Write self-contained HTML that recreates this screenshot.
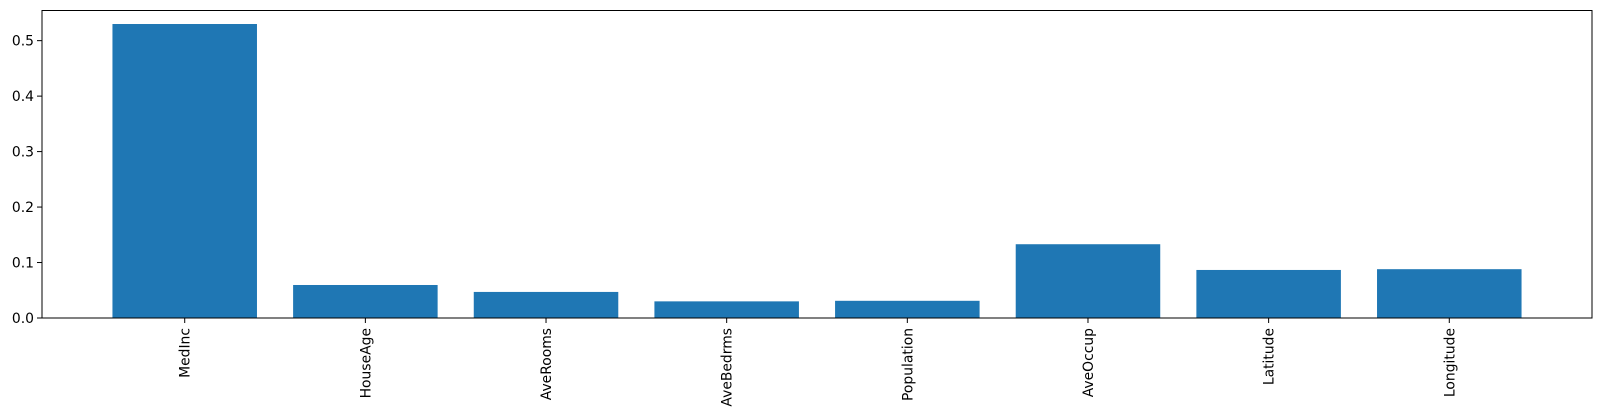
<!DOCTYPE html>
<html><head><meta charset="utf-8"><style>
html,body{margin:0;padding:0;background:#fff;}
svg{display:block;font-family:"DejaVu Sans","Liberation Sans",sans-serif;}
</style></head><body>
<svg id="chart" width="1601" height="416" viewBox="0 0 1601 416" xmlns="http://www.w3.org/2000/svg">
<g id="bars"></g>
<g id="yaxis"></g>
<g id="xaxis"></g>
<rect x="42" y="10.5" width="1550" height="307.5" fill="none" stroke="#000" stroke-width="1"/>
</svg>
<script>
const categories = ["MedInc","HouseAge","AveRooms","AveBedrms","Population","AveOccup","Latitude","Longitude"];
const values = [0.530, 0.0595, 0.047, 0.030, 0.031, 0.133, 0.0866, 0.088];
const yTicks = [0.0, 0.1, 0.2, 0.3, 0.4, 0.5];
const yTickLabels = ["0.0","0.1","0.2","0.3","0.4","0.5"];

const NS = "http://www.w3.org/2000/svg";
const L = 42, R = 1592, T = 10.5, B = 318;
const xMin = -0.79, xMax = categories.length - 1 + 0.79;
const pxPerUnit = 554.7;
function xScale(i){ return L + (i - xMin) / (xMax - xMin) * (R - L); }
function yScale(v){ return B - v * pxPerUnit; }
const step = xScale(1) - xScale(0);
function mk(tag, attrs){ const e = document.createElementNS(NS, tag); for (const k in attrs) e.setAttribute(k, attrs[k]); return e; }

const gb = document.getElementById('bars');
values.forEach((v, i) => {
  const w = step * 0.8;
  const r = mk('rect', {x: xScale(i) - w/2, y: yScale(v), width: w, height: B - yScale(v), fill: '#1f77b4'});
  
  
  gb.appendChild(r);
});

const gy = document.getElementById('yaxis');
yTicks.forEach((t, i) => {
  const y = yScale(t);
  const ln = mk('line', {x1: L - 5, x2: L, y1: y, y2: y, stroke: '#000', 'stroke-width': 1});
  
  
  gy.appendChild(ln);
  const tx = mk('text', {x: L - 8, y: y + 5, 'text-anchor': 'end', 'font-size': '13.9', fill: '#000'});
  tx.textContent = yTickLabels[i];
  
  
  gy.appendChild(tx);
});

const gx = document.getElementById('xaxis');
categories.forEach((c, i) => {
  const x = xScale(i);
  const ln = mk('line', {x1: x, x2: x, y1: B, y2: B + 5, stroke: '#000', 'stroke-width': 1});
  
  
  gx.appendChild(ln);
  const tx = mk('text', {x: 0, y: 0, 'text-anchor': 'end', 'font-size': '13.9', fill: '#000',
    transform: 'translate(' + (x + 5) + ',' + (B + 10) + ') rotate(-90)'});
  tx.textContent = c;
  
  
  gx.appendChild(tx);
});
</script>
</body></html>
